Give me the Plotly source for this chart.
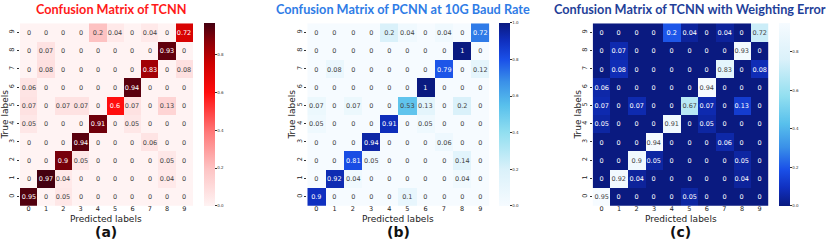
import plotly.graph_objects as go

labels = [str(i) for i in range(10)]

# rows: true label 0..9 ; columns: predicted 0..9
cm_tcnn = [
    [0.95, 0, 0.05, 0, 0, 0, 0, 0, 0, 0],
    [0, 0.97, 0.04, 0, 0, 0, 0, 0, 0.04, 0],
    [0, 0, 0.9, 0.05, 0, 0, 0, 0, 0.05, 0],
    [0, 0, 0, 0.94, 0, 0, 0, 0.06, 0, 0],
    [0.05, 0, 0, 0, 0.91, 0, 0.05, 0, 0, 0],
    [0.07, 0, 0.07, 0.07, 0, 0.6, 0.07, 0, 0.13, 0],
    [0.06, 0, 0, 0, 0, 0, 0.94, 0, 0, 0],
    [0, 0.08, 0, 0, 0, 0, 0, 0.83, 0, 0.08],
    [0, 0.07, 0, 0, 0, 0, 0, 0, 0.93, 0],
    [0, 0, 0, 0, 0.2, 0.04, 0, 0.04, 0, 0.72],
]
cm_pcnn = [
    [0.9, 0, 0, 0, 0, 0.1, 0, 0, 0, 0],
    [0, 0.92, 0.04, 0, 0, 0, 0, 0, 0.04, 0],
    [0, 0, 0.81, 0.05, 0, 0, 0, 0, 0.14, 0],
    [0, 0, 0, 0.94, 0, 0, 0, 0.06, 0, 0],
    [0.05, 0, 0, 0, 0.91, 0, 0.05, 0, 0, 0],
    [0.07, 0, 0.07, 0, 0, 0.53, 0.13, 0, 0.2, 0],
    [0, 0, 0, 0, 0, 0, 1, 0, 0, 0],
    [0, 0.08, 0, 0, 0, 0, 0, 0.79, 0, 0.12],
    [0, 0, 0, 0, 0, 0, 0, 0, 1, 0],
    [0, 0, 0, 0, 0.2, 0.04, 0, 0.04, 0, 0.72],
]
cm_tcnn_w = [
    [0.95, 0, 0, 0, 0, 0.05, 0, 0, 0, 0],
    [0, 0.92, 0.04, 0, 0, 0, 0, 0, 0.04, 0],
    [0, 0, 0.9, 0.05, 0, 0, 0, 0, 0.05, 0],
    [0, 0, 0, 0.94, 0, 0, 0, 0.06, 0, 0],
    [0.05, 0, 0, 0, 0.91, 0, 0.05, 0, 0, 0],
    [0.07, 0, 0.07, 0, 0, 0.67, 0.07, 0, 0.13, 0],
    [0.06, 0, 0, 0, 0, 0, 0.94, 0, 0, 0],
    [0, 0.08, 0, 0, 0, 0, 0, 0.83, 0, 0.08],
    [0, 0.07, 0, 0, 0, 0, 0, 0, 0.93, 0],
    [0, 0, 0, 0, 0.2, 0.04, 0, 0.04, 0, 0.72],
]

titles = ["Confusion Matrix of TCNN",
          "Confusion Matrix of PCNN at 10G Baud Rate",
          "Confusion Matrix of TCNN with Weighting Error"]
panel_tags = ["(a)", "(b)", "(c)"]
x_title = "Predicted labels"
y_title = "True labels"

W, H = 831, 240

reds = [[0, "#fff3f3"], [0.2, "#fdc4c4"], [0.4, "#ff7a7a"], [0.62, "#ff0d0d"],
        [0.78, "#cc0000"], [0.9, "#8a0008"], [1, "#440010"]]
blues = [[0, "#f6fbff"], [0.2, "#daf1fa"], [0.4, "#92dff0"], [0.55, "#58c0ec"],
         [0.68, "#3a90e8"], [0.8, "#1a50e8"], [0.9, "#1030c0"], [1, "#0a1a80"]]
blues_r = [[1 - p, c] for p, c in blues[::-1]]

panels = [
    dict(z=cm_tcnn, cs=reds, x0=20, x1=193, cb0=204.3, tcol="#ff1a1a", tx=111, ylx=5),
    dict(z=cm_pcnn, cs=blues, x0=307.3, x1=489.3, cb0=499.3, tcol="#2f7ce6", tx=403, ylx=292),
    dict(z=cm_tcnn_w, cs=blues_r, x0=592.7, x1=768.3, cb0=779.3, tcol="#1f3f99", tx=690, ylx=578),
]
y_top, y_bot = 23.3, 205.8

fig = go.Figure()
annotations = []
for i, p in enumerate(panels):
    k = "" if i == 0 else str(i + 1)
    z = p["z"]
    zmax = max(max(r) for r in z)
    text = [[f"{v:g}" for v in row] for row in z]
    fig.add_trace(go.Heatmap(
        z=z, x=list(range(10)), y=list(range(10)), text=text,
        texttemplate="%{text}", textfont=dict(size=6.5, family="DejaVu Sans"),
        colorscale=p["cs"], zmin=0, zmax=zmax, xaxis="x" + k, yaxis="y" + k,
        colorbar=dict(x=p["cb0"] / W, xanchor="left", xref="paper",
                      y=1 - y_bot / H, yanchor="bottom", len=(y_bot - y_top) / H,
                      lenmode="fraction", thickness=11, outlinewidth=0, xpad=0, ypad=0,
                      tickmode="linear", tick0=0, dtick=0.2, tickformat=".1f",
                      ticks="outside", ticklen=2, tickwidth=0.6, tickcolor="#333",
                      tickfont=dict(size=4, family="DejaVu Sans", color="#333")),
    ))
    fig.layout["xaxis" + k] = dict(
        domain=[p["x0"] / W, p["x1"] / W], anchor="y" + k, range=[-0.5, 9.5],
        tickmode="array", tickvals=list(range(10)), ticktext=labels, automargin=False,
        ticks="", ticklabelstandoff=-2, showgrid=False, zeroline=False,
        tickfont=dict(size=6.5, family="DejaVu Sans", color="#222"),
    )
    fig.layout["yaxis" + k] = dict(
        domain=[1 - y_bot / H, 1 - y_top / H], anchor="x" + k, range=[-0.5, 9.5],
        tickmode="array", tickvals=list(range(10)), ticktext=labels, tickangle=-90,
        automargin=False,
        ticks="outside", ticklen=2, tickcolor="#333", showgrid=False, zeroline=False,
        tickfont=dict(size=6.5, family="DejaVu Sans", color="#222"),
    )
    cx = (p["x0"] + p["x1"]) / 2
    annotations.append(dict(text="<b>" + titles[i] + "</b>", x=p["tx"] / W, y=1 - 9.5 / H,
                            xref="paper", yref="paper", showarrow=False,
                            xanchor="center", yanchor="middle",
                            font=dict(size=12.7, family="Lato", color=p["tcol"])))
    annotations.append(dict(text=x_title, x=cx / W, y=1 - 218.5 / H,
                            xref="paper", yref="paper", showarrow=False,
                            xanchor="center", yanchor="middle",
                            font=dict(size=9, family="DejaVu Sans", color="#222")))
    annotations.append(dict(text=y_title, x=p["ylx"] / W, y=1 - (y_top + y_bot) / 2 / H,
                            xref="paper", yref="paper", showarrow=False, textangle=-90,
                            xanchor="center", yanchor="middle",
                            font=dict(size=9, family="DejaVu Sans", color="#222")))
    annotations.append(dict(text="<b>" + panel_tags[i] + "</b>", x=cx / W, y=1 - 231.5 / H,
                            xref="paper", yref="paper", showarrow=False,
                            xanchor="center", yanchor="middle",
                            font=dict(size=14, family="DejaVu Sans", color="#111")))

fig.update_layout(width=W, height=H, margin=dict(l=0, r=0, t=0, b=0, autoexpand=False),
                  paper_bgcolor="white", plot_bgcolor="white",
                  annotations=annotations, showlegend=False)
fig.write_html("out.html", config={"displayModeBar": False},
               post_script="document.body.style.margin='0';document.body.style.overflow='hidden';")
